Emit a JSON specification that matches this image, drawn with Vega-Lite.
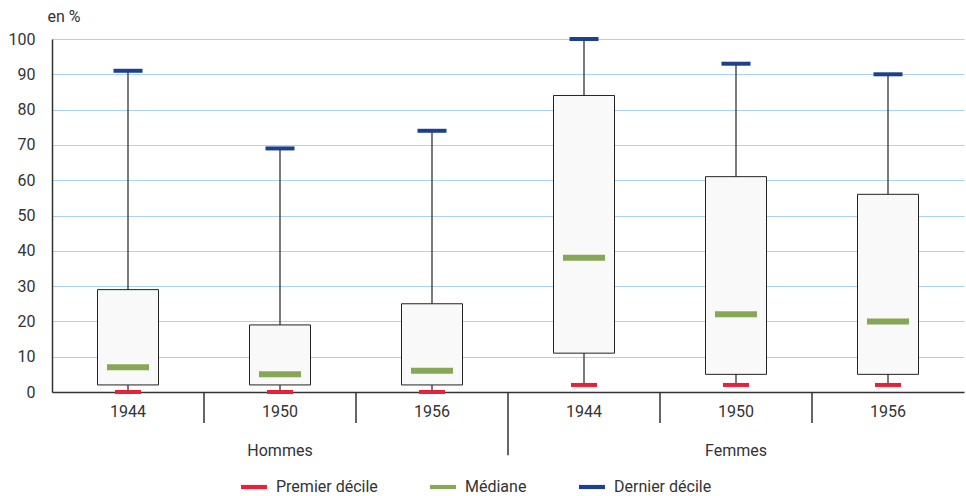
{
  "$schema": "https://vega.github.io/schema/vega-lite/v6.json",
  "width": 912,
  "height": 353,
  "autosize": "none",
  "padding": {"left": 52, "top": 39, "right": 2, "bottom": 104},
  "background": "white",
  "config": {
    "view": {"stroke": null},
    "font": "Roboto",
    "axis": {"labelFont": "Roboto", "titleFont": "Roboto", "labelColor": "#333333", "titleColor": "#333333"},
    "axisY": {
      "titleAngle": 0,
      "titleAlign": "left",
      "titleBaseline": "alphabetic",
      "titleX": -5,
      "titleY": -18,
      "titleFontSize": 16,
      "titleFontWeight": "normal",
      "tickCount": 12,
      "labelOverlap": false,
      "ticks": false,
      "labelPadding": 17,
      "labelFontSize": 16,
      "gridColor": "#a8d4ef",
      "gridWidth": 1,
      "domainColor": "#333333",
      "domainWidth": 1.5
    },
    "legend": {"labelFont": "Roboto"}
  },
  "datasets": {
    "boxes": [
      {"cat": "H1944", "q1": 2, "q3": 29, "p10": 0, "p90": 91},
      {"cat": "H1950", "q1": 2, "q3": 19, "p10": 0, "p90": 69},
      {"cat": "H1956", "q1": 2, "q3": 25, "p10": 0, "p90": 74},
      {"cat": "F1944", "q1": 11, "q3": 84, "p10": 2, "p90": 100},
      {"cat": "F1950", "q1": 5, "q3": 61, "p10": 2, "p90": 93},
      {"cat": "F1956", "q1": 5, "q3": 56, "p10": 2, "p90": 90}
    ],
    "stats": [
      {"cat": "H1944", "stat": "Premier décile", "value": 0},
      {"cat": "H1950", "stat": "Premier décile", "value": 0},
      {"cat": "H1956", "stat": "Premier décile", "value": 0},
      {"cat": "F1944", "stat": "Premier décile", "value": 2},
      {"cat": "F1950", "stat": "Premier décile", "value": 2},
      {"cat": "F1956", "stat": "Premier décile", "value": 2},
      {"cat": "H1944", "stat": "Médiane", "value": 7},
      {"cat": "H1950", "stat": "Médiane", "value": 5},
      {"cat": "H1956", "stat": "Médiane", "value": 6},
      {"cat": "F1944", "stat": "Médiane", "value": 38},
      {"cat": "F1950", "stat": "Médiane", "value": 22},
      {"cat": "F1956", "stat": "Médiane", "value": 20},
      {"cat": "H1944", "stat": "Dernier décile", "value": 91},
      {"cat": "H1950", "stat": "Dernier décile", "value": 69},
      {"cat": "H1956", "stat": "Dernier décile", "value": 74},
      {"cat": "F1944", "stat": "Dernier décile", "value": 100},
      {"cat": "F1950", "stat": "Dernier décile", "value": 93},
      {"cat": "F1956", "stat": "Dernier décile", "value": 90}
    ]
  },
  "encoding": {
    "x": {
      "field": "cat",
      "type": "nominal",
      "sort": ["H1944", "H1950", "H1956", "F1944", "F1950", "F1956"],
      "scale": {"type": "band", "domain": ["H1944", "H1950", "H1956", "F1944", "F1950", "F1956"], "paddingInner": 0, "paddingOuter": 0},
      "axis": {
        "title": null,
        "ticks": false,
        "grid": false,
        "domainColor": "#333333",
        "domainWidth": 1.5,
        "labelFontSize": 16,
        "labelPadding": 11,
        "labelBaseline": "top",
        "labelLineHeight": 39,
        "labelAngle": 0,
        "labelExpr": "datum.value == 'H1950' ? ['1950', 'Hommes'] : datum.value == 'F1950' ? ['1950', 'Femmes'] : substring(datum.value, 1)"
      }
    }
  },
  "layer": [
    {
      "data": {"name": "boxes"},
      "mark": {"type": "rule", "color": "#222222", "strokeWidth": 1.2},
      "encoding": {
        "y": {
          "field": "p10",
          "type": "quantitative",
          "scale": {"domain": [0, 100], "nice": false},
          "axis": {"title": "en %", "tickCount": 12, "values": [0, 10, 20, 30, 40, 50, 60, 70, 80, 90, 100]}
        },
        "y2": {"field": "p90"}
      }
    },
    {
      "data": {"name": "boxes"},
      "mark": {"type": "bar", "size": 61, "fill": "#f8f9f8", "stroke": "#222222", "strokeWidth": 1},
      "encoding": {
        "y": {"field": "q1", "type": "quantitative"},
        "y2": {"field": "q3"}
      }
    },
    {
      "data": {"name": "boxes"},
      "transform": [{"filter": {"field": "cat", "oneOf": ["H1950", "H1956", "F1950", "F1956"]}}],
      "mark": {"type": "rule", "color": "#333333", "strokeWidth": 1.5},
      "encoding": {
        "x": {"field": "cat", "type": "nominal", "bandPosition": 0},
        "y": {"datum": 0, "type": "quantitative"},
        "y2": {"datum": -8.8}
      }
    },
    {
      "data": {"name": "boxes"},
      "transform": [{"filter": {"field": "cat", "equal": "F1944"}}],
      "mark": {"type": "rule", "color": "#333333", "strokeWidth": 1.5},
      "encoding": {
        "x": {"field": "cat", "type": "nominal", "bandPosition": 0},
        "y": {"datum": 0, "type": "quantitative"},
        "y2": {"datum": -17.9}
      }
    },
    {
      "data": {"name": "stats"},
      "transform": [{"filter": {"field": "stat", "equal": "Premier décile"}}],
      "mark": {"type": "tick", "size": 26, "thickness": 4, "opacity": 1},
      "encoding": {
        "y": {"field": "value", "type": "quantitative"},
        "color": {"field": "stat", "type": "nominal"}
      }
    },
    {
      "data": {"name": "stats"},
      "transform": [{"filter": {"field": "stat", "equal": "Médiane"}}],
      "mark": {"type": "tick", "size": 42, "thickness": 6, "opacity": 1},
      "encoding": {
        "y": {"field": "value", "type": "quantitative"},
        "color": {"field": "stat", "type": "nominal"}
      }
    },
    {
      "data": {"name": "stats"},
      "transform": [{"filter": {"field": "stat", "equal": "Dernier décile"}}],
      "mark": {"type": "tick", "size": 29, "thickness": 4, "opacity": 1},
      "encoding": {
        "y": {"field": "value", "type": "quantitative"},
        "color": {
          "field": "stat",
          "type": "nominal",
          "scale": {"domain": ["Premier décile", "Médiane", "Dernier décile"], "range": ["#e8203a", "#86a856", "#1c3f8e"]},
          "legend": {
            "title": null,
            "orient": "none",
            "direction": "horizontal",
            "legendX": 188,
            "legendY": 434,
            "symbolType": "M-1,-0.16H1V0.16H-1Z",
            "symbolSize": 676,
            "symbolOpacity": 1,
            "labelFontSize": 16,
            "labelColor": "#333333",
            "labelOffset": 8,
            "columnPadding": 51
          }
        }
      }
    }
  ]
}
